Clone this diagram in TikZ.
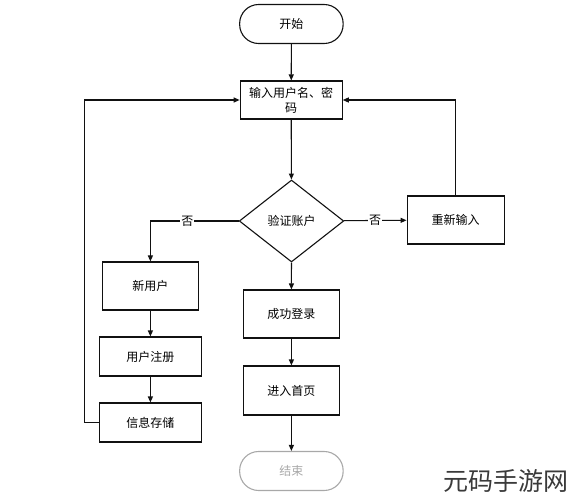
\documentclass[tikz,border=0pt]{standalone}
\usepackage{fontspec}
\setmainfont{Noto Sans CJK SC}
\usetikzlibrary{arrows.meta,shapes.geometric}

\definecolor{Stroke}{HTML}{111111}
\definecolor{Fin}{HTML}{A8A8A8}
\definecolor{Mark}{HTML}{3A3A3A}

\begin{document}
\begin{tikzpicture}[x=1pt, y=-1pt,
  box/.style={draw=Stroke, line width=1.1pt, minimum width=96pt, minimum height=48pt, inner sep=0pt, font=\fontsize{12}{15}\selectfont},
  term/.style={draw=Stroke, line width=1.1pt, rounded corners=19pt, minimum width=103.5pt, minimum height=39pt, inner sep=0pt, font=\fontsize{12}{15}\selectfont},
  check/.style={draw=Stroke, line width=1.1pt, diamond, minimum width=104.5pt, minimum height=82pt, inner sep=0pt, font=\fontsize{12}{15}\selectfont},
  arr/.style={draw=Stroke, line width=1.1pt, -{Triangle[length=6pt,width=5pt]}},
  no/.style={fill=white, inner sep=1pt, font=\fontsize{12}{15}\selectfont}]

 \useasboundingbox (0,0) rectangle (571,500);

 %%%%%%%%%% Main column %%%%%%%%%%
 \node[term] (start) at (291.4,24) {开始};
 \node[box, minimum width=102pt, minimum height=38pt, align=center] (input) at (291.2,100) {输入用户名、密\\码};
 \node[check] (verify) at (291.5,221) {验证账户};
 \node[box] (login) at (291.4,314) {成功登录};
 \node[box, minimum height=49pt] (home) at (291.4,390.5) {进入首页};
 \node[term, draw=Fin, text=Fin] (end) at (291.4,471) {结束};

 %%%%%%%%%% Right branch %%%%%%%%%%
 \node[box, minimum width=97pt] (retry) at (455.6,220) {重新输入};

 %%%%%%%%%% Left branch %%%%%%%%%%
 \node[box] (newuser) at (150.4,286) {新用户};
 \node[box, minimum width=102pt, minimum height=39pt] (register) at (150.4,356.5) {用户注册};
 \node[box, minimum width=102pt, minimum height=39pt] (store) at (150.4,422.5) {信息存储};
 \coordinate (loop) at (84.9,422.5);

 %%%%%%%%%% Watermark %%%%%%%%%%
 \node[text=Mark, font=\fontsize{25}{27}\selectfont, inner sep=0pt, anchor=east] (mark) at (569,481) {元码手游网};

 %%%%%%%%%% Connectors %%%%%%%%%%
 \draw[arr] (start) -- (input);
 \draw[arr] (input) -- (verify);
 \draw[arr] (verify) -- (login);
 \draw[arr] (login) -- (home);
 \draw[arr] (home) -- (end);

 \draw[arr] (verify) -- node[no] {否} (retry);
 \draw[arr] (retry.north) |- (input.east);

 \draw[arr] (verify.west) -| node[no, pos=0.29] {否} (newuser.north);
 \draw[arr] (newuser) -- (register);
 \draw[arr] (register) -- (store);
 \draw[arr] (store.west) -- (loop) |- (input.west);

\end{tikzpicture}
\end{document}
